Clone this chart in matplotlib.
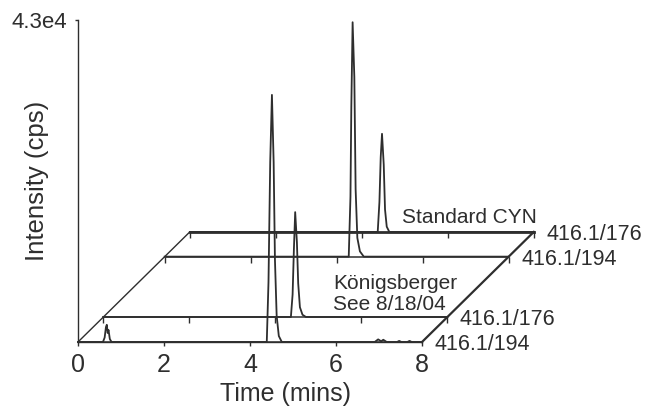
import numpy as np
import matplotlib
matplotlib.use("Agg")
import matplotlib.pyplot as plt

plt.rcParams['font.family'] = ['Liberation Sans', 'DejaVu Sans']

# --- data (time in mins, intensity in cps) ---
# sample, transition 416.1/194 (front trace)
sample194_t = [0.0, 0.58, 0.62, 0.65, 0.67, 0.69, 0.71, 0.74, 0.78,
               4.39, 4.43, 4.47, 4.51, 4.55, 4.58, 4.62, 4.67, 4.74,
               6.90, 6.98, 7.05, 7.10, 7.18, 7.42, 7.47, 7.52, 7.66, 7.71, 7.76, 8.0]
sample194_i = [0, 0, 600, 2000, 2300, 1200, 1600, 400, 0,
               0, 8000, 24000, 33000, 24000, 11000, 3500, 800, 0,
               0, 350, 100, 300, 0, 0, 150, 0, 0, 150, 0, 0]

# sample, transition 416.1/176
sample176_t = [0.0, 4.36, 4.40, 4.43, 4.46, 4.50, 4.53, 4.57, 4.63, 4.71, 8.0]
sample176_i = [0, 0, 3000, 9000, 14000, 10000, 4500, 1300, 300, 0, 0]

# standard CYN, transition 416.1/194
std194_t = [0.0, 4.28, 4.32, 4.34, 4.37, 4.41, 4.44, 4.48, 4.54, 4.63, 8.0]
std194_i = [0, 0, 8000, 20000, 31300, 24000, 9000, 2500, 700, 0, 0]

# standard CYN, transition 416.1/176 (back trace)
std176_t = [0.0, 4.37, 4.41, 4.44, 4.47, 4.51, 4.54, 4.58, 4.64, 8.0]
std176_i = [0, 0, 4000, 10000, 13100, 9000, 3000, 700, 0, 0]

trace_labels = ['416.1/194', '416.1/176', '416.1/194', '416.1/176']
x_ticks = [0, 2, 4, 6, 8]

# pseudo-3D offsets of each trace (depth), front to back
off_dy = [0, 3340, 11400, 14700]
off_dx = [d * 2.6 / 14700 for d in off_dy]
base_w = [1.1, 1.1, 1.1, 2.0]

ink = '#2e2e2e'

fig = plt.figure(figsize=(6.49, 4.07), dpi=100)
ax = fig.add_axes([78 / 649, 65 / 407, 344 / 649, 322 / 407])

traces = [(sample194_t, sample194_i), (sample176_t, sample176_i),
          (std194_t, std194_i), (std176_t, std176_i)]

# draw back to front
for k in [3, 2, 1, 0]:
    t, y = traces[k]
    t = np.asarray(t) + off_dx[k]
    y = np.asarray(y) + off_dy[k]
    # baseline line, then the trace itself
    ax.plot([off_dx[k], 8 + off_dx[k]], [off_dy[k], off_dy[k]],
            color=ink, lw=base_w[k], clip_on=False)
    ax.plot(t, y, color=ink, lw=1.3, clip_on=False, solid_joinstyle='round')
    if k > 0:
        # little ticks along each shifted baseline
        ax.plot(np.asarray(x_ticks) + off_dx[k], [off_dy[k]] * len(x_ticks),
                ls='none', marker=3, ms=4, mew=1.0, color=ink, clip_on=False)
    ax.annotate(trace_labels[k], xy=(8 + off_dx[k], off_dy[k]),
                xytext=(9, -2), textcoords='offset points',
                ha='left', va='center', fontsize=15.5, color=ink,
                annotation_clip=False)

# diagonal edges of the stack
ax.plot([0, off_dx[-1]], [0, off_dy[-1]], color=ink, lw=1.0, clip_on=False)
ax.plot([8, 8 + off_dx[-1]], [0, off_dy[-1]], color=ink, lw=1.6, clip_on=False)

# group labels
ax.annotate('Standard CYN', xy=(4.93 + off_dx[3], off_dy[3]),
            xytext=(0, 6.5), textcoords='offset points',
            ha='left', va='baseline', fontsize=15, color=ink, annotation_clip=False)
ax.annotate('Königsberger\nSee 8/18/04', xy=(5.34 + off_dx[1], off_dy[1]),
            xytext=(0, 5), textcoords='offset points',
            ha='left', va='baseline', fontsize=15, color=ink,
            linespacing=1.15, annotation_clip=False)

ax.set_xlim(0, 8)
ax.set_ylim(0, 43000)
ax.set_xticks(x_ticks)
ax.set_yticks([43000])
ax.set_yticklabels(['4.3e4'])

for s in ['top', 'right']:
    ax.spines[s].set_visible(False)
for s in ['left', 'bottom']:
    ax.spines[s].set_color(ink)
    ax.spines[s].set_linewidth(1.0)

ax.tick_params(axis='x', direction='out', length=3, width=1, pad=5,
               labelsize=18, colors=ink)
ax.tick_params(axis='y', direction='out', length=2, width=1, pad=6,
               labelsize=16, colors=ink)

ax.set_xlabel('Time (mins)', fontsize=18, color=ink)
ax.xaxis.set_label_coords(0.602, -0.161)
ax.xaxis.label.set_verticalalignment('center')
ax.set_ylabel('Intensity (cps)', fontsize=18.5, color=ink)
ax.yaxis.set_label_coords(-0.12, 0.5)
ax.yaxis.label.set_verticalalignment('center')

fig.savefig('out.png', dpi=100)
